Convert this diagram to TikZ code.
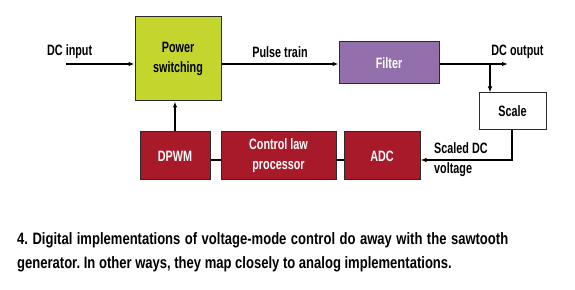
\documentclass[tikz,border=0pt]{standalone}
\usepackage{fontspec}
\setmainfont{Liberation Sans}[FakeStretch=0.72]
\newfontfamily\capfont{Liberation Sans}[FakeStretch=0.79]
\usetikzlibrary{positioning,arrows.meta,calc}
\definecolor{pwrgreen}{HTML}{C4D62E}
\definecolor{fltpurple}{HTML}{9370AB}
\definecolor{ctlred}{HTML}{A8192A}
\definecolor{edgegray}{HTML}{2B2B2B}
\frenchspacing

\begin{document}
\begin{tikzpicture}[>={Latex[length=6pt,width=4.5pt]},x=1pt,y=1pt,
    blk/.style={draw=edgegray,line width=1pt,inner sep=0pt,align=center,
      font=\fontsize{15}{20}\selectfont\bfseries},
    redblk/.style={blk,fill=ctlred,text=white,minimum height=48pt},
    lbl/.style={font=\fontsize{15}{20}\selectfont\bfseries,inner sep=0pt,align=left},
    wire/.style={line width=1.2pt}]
  \useasboundingbox (0,0) rectangle (575,289);
  % blocks
  \node[blk,fill=pwrgreen,minimum width=86pt,minimum height=84pt] (pwr) at (178,230) {Power\\switching};
  \node[blk,fill=fltpurple,text=white,minimum width=100pt,minimum height=42pt] (flt) at (389,226) {Filter};
  \node[blk,fill=white,minimum width=67pt,minimum height=37pt] (scl) at (512.5,177.5) {Scale};
  \node[redblk,minimum width=70pt] (dpwm) at (175,133) {DPWM};
  \node[redblk,minimum width=115pt] (ctl) at (278.5,133) {Control law\\processor};
  \node[redblk,minimum width=76pt] (adc) at (382,133) {ADC};
  % labels
  \node[lbl,anchor=west] (dcin) at (47,237) {DC input};
  \node[lbl] (pulse) at (280,237) {Pulse train};
  \node[lbl] (dcout) at (517.5,237) {DC output};
  \node[lbl,anchor=west] (sdc) at (434,129) {Scaled DC\\voltage};
  % connectors
  \coordinate (srcin) at (66,225);
  \coordinate (outend) at (508,225);
  \coordinate (tap) at (490,225);
  \coordinate (fbk) at (512,129);
  \draw[wire,->] (srcin) -- (srcin -| pwr.west);
  \draw[wire,->] (pwr.east |- srcin) -- (srcin -| flt.west);
  \draw[wire,->] (flt.east |- srcin) -- (outend);
  \draw[wire,->] (tap) -- (tap |- scl.north);
  \draw[wire,->] (fbk |- scl.south) -- (fbk) -- (fbk -| adc.east);
  \draw[wire,->] (dpwm.north) -- (dpwm.north |- pwr.south);
  \draw[wire] (dpwm.east |- fbk) -- (ctl.west |- fbk);
  \draw[wire] (ctl.east |- fbk) -- (adc.west |- fbk);
  % caption
  \node[anchor=north west,inner sep=0pt,text width=491pt,align=justify,
    font=\capfont\fontsize{16.5}{24}\selectfont\bfseries] (cap) at (17,57)
    {4. Digital implementations of voltage-mode control do away with the sawtooth\linebreak generator. In other ways, they map closely to analog implementations.};
\end{tikzpicture}
\end{document}
